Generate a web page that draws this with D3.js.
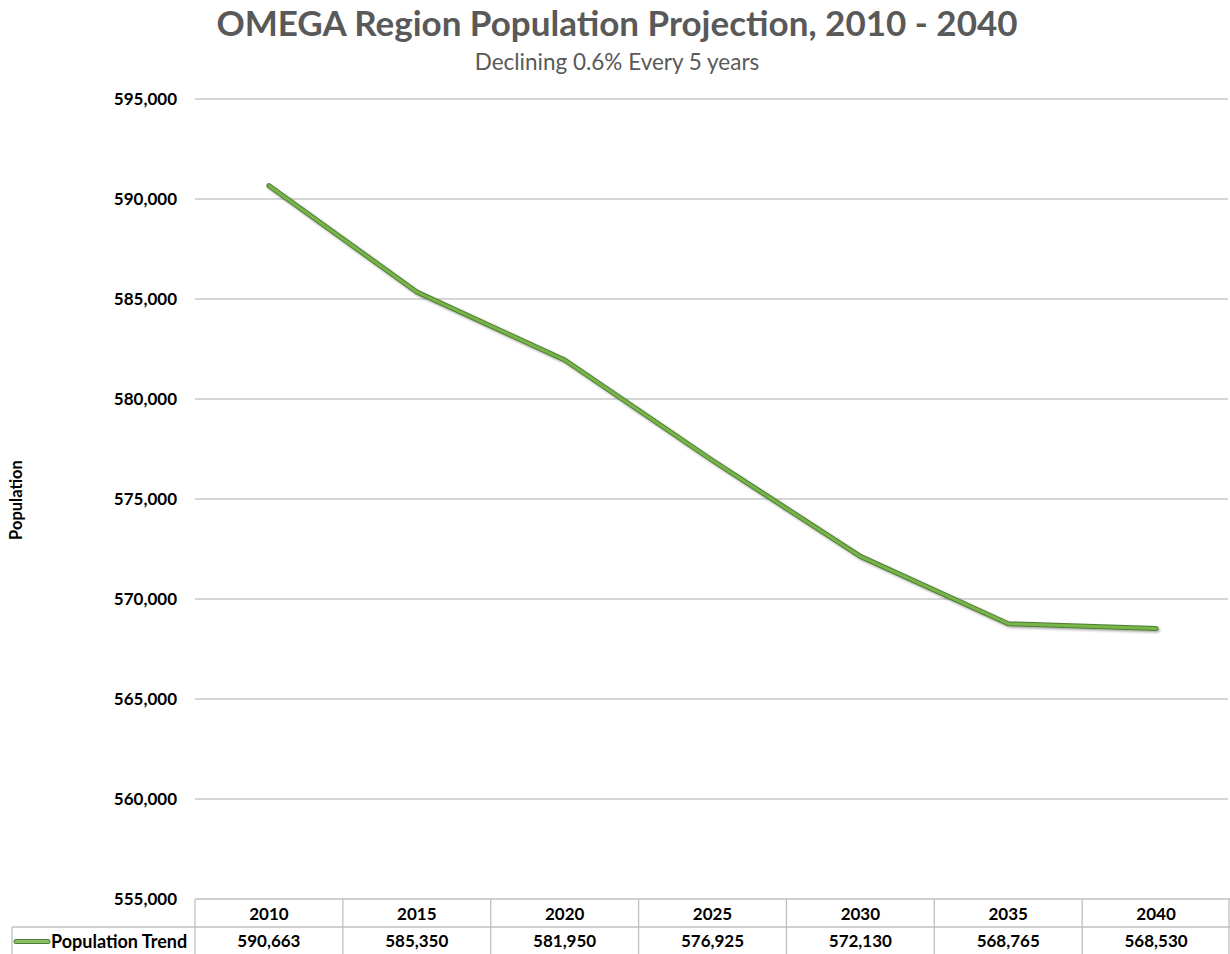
<!DOCTYPE html>
<html><head><meta charset="utf-8">
<script src="https://cdn.jsdelivr.net/npm/d3@7"></script>
<style>body{margin:0;background:#fff}svg{display:block}</style>
</head><body>
<svg id="c" width="1230" height="954"></svg>
<script>
const years = ["2010","2015","2020","2025","2030","2035","2040"];
const population = [590663, 585350, 581950, 576925, 572130, 568765, 568530];
const yTicks = [555000, 560000, 565000, 570000, 575000, 580000, 585000, 590000, 595000];
const seriesName = "Population Trend";
const titleText = "OMEGA Region Population Projection, 2010 - 2040";
const subtitleText = "Declining 0.6% Every 5 years";
const yAxisTitle = "Population";

(function () {
const svg = d3.select("#c");
const font = "Lato, 'Open Sans', sans-serif";
const pL = 195, pR = 1230, pT = 99, pB = 899;
const x = d3.scaleBand().domain(years).range([pL, pR]);
const y = d3.scaleLinear().domain([555000, 595000]).range([pB, pT]);
const fmt = d3.format(",");
const fs = 17;

svg.append("g").selectAll("line").data(yTicks.filter(t => t > 555000)).join("line")
  .attr("x1", pL).attr("x2", pR - 2)
  .attr("y1", d => y(d)).attr("y2", d => y(d))
  .attr("stroke", "#c8c8c8").attr("stroke-width", 1.3);

svg.append("g").selectAll("text").data(yTicks).join("text")
  .attr("x", 177).attr("y", d => y(d)).attr("dy", "0.35em")
  .attr("text-anchor", "end").attr("font-family", font).attr("font-weight", 700)
  .attr("font-size", fs).attr("fill", "#000").text(d => fmt(d));

svg.append("text").attr("transform", "translate(22,500) rotate(-90)")
  .attr("text-anchor", "middle").attr("font-family", font).attr("font-weight", 700)
  .attr("font-size", 16.5).text(yAxisTitle);

svg.append("text").attr("x", 617).attr("y", 36).attr("text-anchor", "middle")
  .attr("font-family", font).attr("font-weight", 700).attr("font-size", 35)
  .attr("fill", "#595959").text(titleText);
svg.append("text").attr("x", 617).attr("y", 70).attr("text-anchor", "middle")
  .attr("font-family", font).attr("font-size", 22.5)
  .attr("fill", "#595959").text(subtitleText);

const defs = svg.append("defs");
const f = defs.append("filter").attr("id", "sh").attr("x", "-10%").attr("y", "-10%").attr("width", "120%").attr("height", "130%");
f.append("feDropShadow").attr("dx", 1.5).attr("dy", 1.5).attr("stdDeviation", 1.2).attr("flood-color", "#000").attr("flood-opacity", 0.35);
const line = d3.line().x((d, i) => x(years[i]) + x.bandwidth() / 2).y(d => y(d));
const g = svg.append("g").attr("filter", "url(#sh)");
g.append("path").datum(population).attr("d", line).attr("fill", "none")
  .attr("stroke", "#4f7d35").attr("stroke-width", 5).attr("stroke-linecap", "round").attr("stroke-linejoin", "round");
g.append("path").datum(population).attr("d", line).attr("fill", "none")
  .attr("stroke", "#78b548").attr("stroke-width", 3).attr("stroke-linecap", "round").attr("stroke-linejoin", "round");

const r1 = 899, r2 = 927, r3 = 954;
const tg = svg.append("g").attr("stroke", "#c0c0c0").attr("stroke-width", 1.3);
tg.append("line").attr("x1", pL).attr("x2", pR).attr("y1", r1).attr("y2", r1);
tg.append("line").attr("x1", 12).attr("x2", pR).attr("y1", r2).attr("y2", r2);
tg.selectAll(".v").data(years).join("line")
  .attr("x1", d => x(d)).attr("x2", d => x(d)).attr("y1", r1).attr("y2", r3);
tg.append("line").attr("x1", pR - 1).attr("x2", pR - 1).attr("y1", r1).attr("y2", r3);
tg.append("line").attr("x1", 12).attr("x2", 12).attr("y1", r2).attr("y2", r3);

svg.append("g").selectAll("text").data(years).join("text")
  .attr("x", d => x(d) + x.bandwidth() / 2).attr("y", (r1 + r2) / 2 + 1).attr("dy", "0.35em")
  .attr("text-anchor", "middle").attr("font-family", font).attr("font-weight", 700)
  .attr("font-size", fs).text(d => d);
svg.append("g").selectAll("text").data(population).join("text")
  .attr("x", (d, i) => x(years[i]) + x.bandwidth() / 2).attr("y", (r2 + r3) / 2 + 1).attr("dy", "0.35em")
  .attr("text-anchor", "middle").attr("font-family", font).attr("font-weight", 700)
  .attr("font-size", fs).text(d => fmt(d));

const ly = (r2 + r3) / 2 + 1;
svg.append("line").attr("x1", 16).attr("x2", 48).attr("y1", ly).attr("y2", ly)
  .attr("stroke", "#4f7d35").attr("stroke-width", 5).attr("stroke-linecap", "round");
svg.append("line").attr("x1", 16).attr("x2", 48).attr("y1", ly).attr("y2", ly)
  .attr("stroke", "#8cbf63").attr("stroke-width", 3).attr("stroke-linecap", "round");
svg.append("text").attr("x", 51).attr("y", ly).attr("dy", "0.35em")
  .attr("font-family", font).attr("font-weight", 700).attr("font-size", 18).text(seriesName);
})();
</script>
</body></html>
